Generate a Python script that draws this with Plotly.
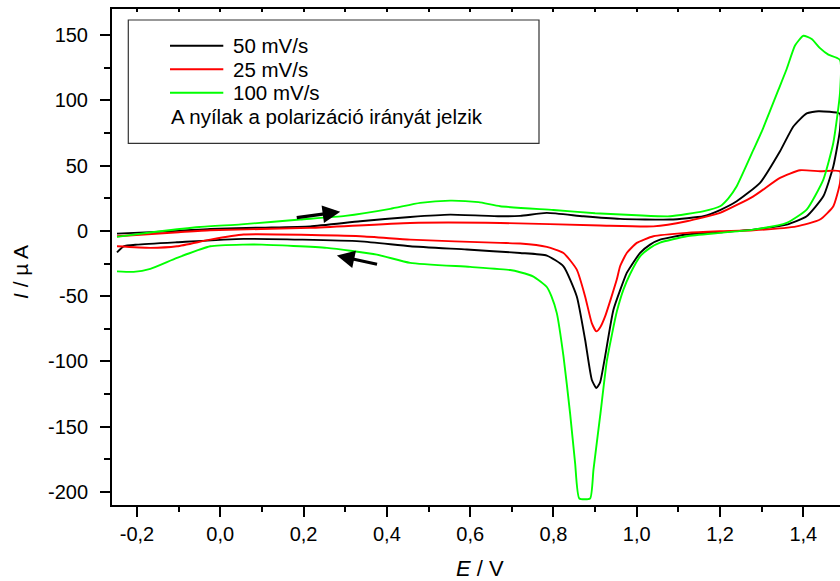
import plotly.graph_objects as go

# ---------------- data ----------------
# 50 mV/s (black)
e50_fwd = [-0.248, -0.1, -0.024, 0.1, 0.216, 0.336, 0.456, 0.552, 0.672, 0.72, 0.784, 0.872, 0.96, 1.08, 1.16, 1.2, 1.24, 1.296, 1.344, 1.376, 1.408, 1.436, 1.488]
i50_fwd = [-2.1, 0.0, 1.5, 2.5, 3.5, 7.4, 10.7, 12.5, 11.2, 11.5, 13.8, 11.2, 9.2, 8.7, 11.2, 16.0, 22.7, 36.8, 61.0, 80.0, 90.0, 91.7, 89.7]
e50_rev = [1.488, 1.472, 1.448, 1.408, 1.36, 1.28, 1.2, 1.12, 1.056, 1.032, 1.008, 0.984, 0.976, 0.944, 0.924, 0.912, 0.903, 0.892, 0.876, 0.856, 0.824, 0.784, 0.72, 0.592, 0.456, 0.336, 0.056, -0.104, -0.2, -0.232, -0.248]
i50_rev = [77.7, 49.5, 26.5, 11.2, 4.8, 1.0, -1.0, -2.8, -6.7, -10.5, -16.9, -28.0, -32.2, -60.4, -96.2, -116.0, -120.4, -114.0, -83.4, -50.2, -27.1, -18.9, -16.9, -14.3, -11.8, -8.0, -6.1, -8.7, -10.5, -11.8, -16.4]

# 25 mV/s (red)
e25_fwd = [-0.248, -0.1, -0.024, 0.216, 0.456, 0.672, 0.912, 1.04, 1.12, 1.2, 1.28, 1.344, 1.392, 1.44, 1.488]
i25_fwd = [-4.1, -1.0, 0.5, 2.3, 6.1, 6.1, 4.1, 3.5, 7.4, 13.8, 26.5, 40.6, 46.5, 45.7, 45.7]
e25_rev = [1.488, 1.472, 1.44, 1.384, 1.28, 1.2, 1.12, 1.04, 1.0, 0.976, 0.96, 0.952, 0.924, 0.912, 0.903, 0.892, 0.876, 0.856, 0.824, 0.784, 0.72, 0.672, 0.456, 0.336, 0.056, -0.024, -0.104, -0.168, -0.248]
i25_rev = [36.8, 18.9, 8.7, 3.5, 0.5, -0.3, -1.5, -4.1, -9.2, -16.9, -27.1, -37.3, -65.5, -74.0, -77.0, -70.6, -50.2, -29.7, -16.9, -12.3, -9.7, -9.2, -6.7, -4.1, -2.8, -6.7, -11.8, -13.0, -11.8]

# 100 mV/s (green)
e100_fwd = [-0.248, -0.15, -0.05, 0.05, 0.192, 0.3, 0.408, 0.48, 0.552, 0.62, 0.672, 0.8, 0.9, 1.0, 1.08, 1.159, 1.2, 1.22, 1.24, 1.28, 1.30, 1.32, 1.34, 1.36, 1.38, 1.40, 1.42, 1.44, 1.46, 1.488]
i100_fwd = [-4.6, -0.5, 3.0, 5.0, 8.7, 11.5, 16.9, 21.5, 23.2, 22.0, 18.9, 16.0, 13.5, 12.0, 11.2, 15.0, 18.9, 25.0, 34.2, 62.0, 76.0, 92.0, 108.0, 124.0, 142.0, 149.5, 147.0, 140.0, 135.0, 131.0]
e100_rev = [1.488, 1.472, 1.448, 1.408, 1.36, 1.28, 1.2, 1.12, 1.056, 1.032, 1.008, 0.984, 0.968, 0.952, 0.94, 0.928, 0.912, 0.896, 0.888, 0.862, 0.852, 0.84, 0.824, 0.808, 0.795, 0.784, 0.752, 0.72, 0.696, 0.6, 0.456, 0.376, 0.256, 0.1, 0.056, -0.024, -0.104, -0.168, -0.208, -0.248]
i100_rev = [105.8, 67.5, 39.3, 16.3, 6.1, 1.0, -1.5, -4.1, -9.0, -13.0, -19.5, -33.0, -45.0, -62.0, -80.0, -100.0, -142.0, -183.0, -205.0, -205.0, -178.0, -140.0, -96.0, -63.0, -50.0, -43.0, -35.0, -31.7, -30.0, -27.6, -24.5, -18.2, -13.0, -10.5, -10.5, -11.8, -20.7, -29.1, -31.4, -31.0]

series_names = ["50 mV/s", "25 mV/s", "100 mV/s"]
series_colors = ["#000000", "#ff0000", "#00ff00"]
note_text = "A nyílak a polarizáció irányát jelzik"

x_tickvals = [-0.2, 0.0, 0.2, 0.4, 0.6, 0.8, 1.0, 1.2, 1.4]
x_ticktext = ["-0,2", "0,0", "0,2", "0,4", "0,6", "0,8", "1,0", "1,2", "1,4"]
x_minorvals = [-0.1, 0.1, 0.3, 0.5, 0.7, 0.9, 1.1, 1.3]
y_tickvals = [-200, -150, -100, -50, 0, 50, 100, 150]
y_ticktext = ["-200", "-150", "-100", "-50", "0", "50", "100", "150"]
y_minorvals = [-175, -125, -75, -25, 25, 75, 125]

# direction arrows: (tail E, tail I, tip E, tip I)
arrows = [(0.18, 10.0, 0.288, 14.6), (0.38, -25.8, 0.28, -18.9)]

# ---------------- figure ----------------
W, H = 840, 581
L, R, T, B = 112, 0, 9, 76
FONT = "Liberation Sans, Arial, sans-serif"

fig = go.Figure()
curves = [(e50_fwd + e50_rev, i50_fwd + i50_rev),
          (e25_fwd + e25_rev, i25_fwd + i25_rev),
          (e100_fwd + e100_rev, i100_fwd + i100_rev)]
for (ex, iy), name, col in zip(curves, series_names, series_colors):
    fig.add_trace(go.Scatter(x=ex, y=iy, mode="lines", name=name,
                             line=dict(color=col, width=1.9, shape="spline", smoothing=0.5),
                             showlegend=False, hoverinfo="skip"))

# dummy trace on the top axis so its ticks are drawn
fig.add_trace(go.Scatter(x=[None], y=[None], xaxis="x2", showlegend=False, hoverinfo="skip"))

pw, ph = W - L - R, H - T - B
def px(x):
    return (x - L) / pw
def py(y):
    return (H - B - y) / ph

shapes = [dict(type="rect", xref="paper", yref="paper",
               x0=px(128.3), x1=px(539), y0=py(143.3), y1=py(20),
               line=dict(color="#333333", width=1.2), fillcolor="white", layer="below")]
annotations = []
rows = [45.7, 69.3, 92.7]
for yy, name, col in zip(rows, series_names, series_colors):
    shapes.append(dict(type="line", xref="paper", yref="paper",
                       x0=px(170), x1=px(223.3), y0=py(yy), y1=py(yy),
                       line=dict(color=col, width=1.9)))
    annotations.append(dict(text=name, xref="paper", yref="paper", x=px(231), y=py(yy),
                            xanchor="left", yanchor="middle", showarrow=False,
                            font=dict(size=20.5, color="black", family=FONT)))
annotations.append(dict(text=note_text, xref="paper", yref="paper", x=px(169), y=py(116.7),
                        xanchor="left", yanchor="middle", showarrow=False,
                        font=dict(size=20.5, color="black", family=FONT)))

# axis titles
annotations.append(dict(text="<i>E</i> / V", xref="paper", yref="paper", x=px(480), y=py(568),
                        xanchor="center", yanchor="middle", showarrow=False,
                        font=dict(size=22, color="black", family=FONT)))
annotations.append(dict(text="<i>I</i> / µ A", xref="paper", yref="paper", x=px(20), y=py(272),
                        xanchor="center", yanchor="middle", showarrow=False, textangle=-90,
                        font=dict(size=21, color="black", family=FONT)))

for (ax_, ay_, x_, y_) in arrows:
    annotations.append(dict(x=x_, y=y_, ax=ax_, ay=ay_, xref="x", yref="y",
                            axref="x", ayref="y", text="", showarrow=True,
                            arrowhead=2, arrowsize=1.1, arrowwidth=3.2,
                            arrowcolor="black", standoff=0, startstandoff=0))

xr = [-0.26, 1.488]
fig.update_layout(
    width=W, height=H,
    margin=dict(l=L, r=R, t=T, b=B, pad=0, autoexpand=False),
    paper_bgcolor="white", plot_bgcolor="white",
    font=dict(family=FONT, size=20, color="black"),
    showlegend=False,
    shapes=shapes, annotations=annotations,
    xaxis=dict(range=xr, tickvals=x_tickvals, ticktext=x_ticktext, automargin=False,
               ticks="outside", ticklen=10, tickwidth=2, tickcolor="black",
               minor=dict(tickvals=x_minorvals, ticks="outside", ticklen=5, tickwidth=2, tickcolor="black"),
               showline=True, linewidth=2, linecolor="black", showgrid=False, zeroline=False,
               tickfont=dict(size=20, family=FONT)),
    xaxis2=dict(range=xr, overlaying="x", side="top", dtick=0.1, tick0=0, automargin=False,
                ticks="inside", ticklen=3, tickwidth=1.5, tickcolor="black",
                showticklabels=False, showline=True, linewidth=2, linecolor="black",
                showgrid=False, zeroline=False),
    yaxis=dict(range=[-210, 170], tickvals=y_tickvals, ticktext=y_ticktext, automargin=False,
               ticks="outside", ticklen=10, tickwidth=2, tickcolor="black",
               minor=dict(tickvals=y_minorvals, ticks="outside", ticklen=6, tickwidth=2, tickcolor="black"),
               showline=True, linewidth=2, linecolor="black", showgrid=False, zeroline=False,
               tickfont=dict(size=20, family=FONT), ticklabelstandoff=8),
)

fig.write_html("out.html", config={"displayModeBar": False},
               post_script="document.body.style.margin='0';document.body.style.overflow='hidden';")
